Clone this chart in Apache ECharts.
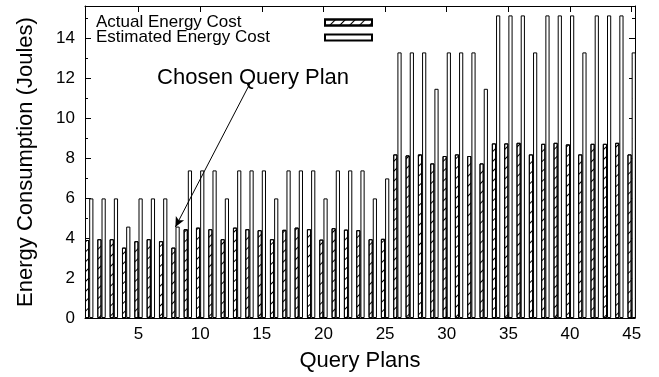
<!DOCTYPE html>
<html>
<head>
<meta charset="utf-8">
<script src="https://cdn.jsdelivr.net/npm/echarts@6/dist/echarts.min.js"></script>
<style>
  html, body { margin: 0; background: #fff; }
  #chart { width: 659px; height: 377px; }
</style>
</head>
<body>
<div id="chart"></div>
<script>
// query plan numbers (x)
const plans = [1, 2, 3, 4, 5, 6, 7, 8, 9, 10, 11, 12, 13, 14, 15, 16, 17, 18, 19, 20, 21, 22, 23,
  24, 25, 26, 27, 28, 29, 30, 31, 32, 33, 34, 35, 36, 37, 38, 39, 40, 41, 42, 43, 44, 45];

// energy in joules
const actualCost = [3.90, 3.94, 3.94, 3.52, 3.84, 3.94, 3.84, 3.52,
  4.44, 4.52, 4.44, 3.94, 4.52, 4.44, 4.39, 3.94,
  4.41, 4.52, 4.44, 3.92, 4.49, 4.42, 4.39, 3.94,
  3.96,
  8.18, 8.13, 8.18, 7.73, 8.10, 8.18, 8.10, 7.73,
  8.73, 8.73, 8.76, 8.18, 8.71, 8.76, 8.68, 8.18, 8.71, 8.71, 8.76, 8.18];
const estimatedCost = [5.98, 5.98, 5.98, 4.57, 5.98, 5.98, 5.98, 4.57,
  7.38, 7.38, 7.38, 5.98, 7.38, 7.38, 7.38, 5.98,
  7.38, 7.38, 7.38, 5.98, 7.38, 7.38, 7.38, 5.98,
  6.98,
  13.28, 13.28, 13.28, 11.46, 13.28, 13.28, 13.28, 11.46,
  15.13, 15.13, 15.13, 13.28, 15.13, 15.13, 15.13, 13.28, 15.13, 15.13, 15.13, 13.28];

const xTicks = [5, 10, 15, 20, 25, 30, 35, 40, 45];
const yMajorTicks = [0, 2, 4, 6, 8, 10, 12, 14];
const yMinorTicks = [1, 3, 5, 7, 9, 11, 13, 15];

// annotation ("Chosen Query Plan" arrow), in data units
const noteText = "Chosen Query Plan";
const noteAt = [14.12, 12.02];
const arrowFrom = [13.9, 11.76];
const arrowTo = [7.82, 4.55];

const FONT = "Liberation Sans";
const X_MIN = 0.66, X_MAX = 45.27;
const Y_MIN = 0, Y_MAX = 15.6;

const chart = echarts.init(document.getElementById("chart"), null, { renderer: "canvas" });

// diagonal "/" hatching for the actual cost bars
const hatch = {
  symbol: "rect",
  symbolSize: 1,
  color: "#000",
  dashArrayX: [1, 0],
  dashArrayY: [1, 5.5],
  rotation: -Math.PI / 4,
};

function xAxisDef(pos, withLabels) {
  return {
    type: "value",
    position: pos,
    min: X_MIN,
    max: X_MAX,
    axisLine: { show: true, onZero: false, lineStyle: { color: "#000", width: 1 } },
    axisTick: { show: true, inside: true, length: 6, customValues: xTicks, lineStyle: { color: "#000" } },
    axisLabel: {
      show: withLabels,
      customValues: xTicks,
      margin: 8,
      fontFamily: FONT,
      fontSize: 17,
      color: "#000",
    },
    splitLine: { show: false },
  };
}

function yAxisDef(pos, ticks, len, showLine, withLabels) {
  return {
    type: "value",
    position: pos,
    min: Y_MIN,
    max: Y_MAX,
    axisLine: { show: showLine, onZero: false, lineStyle: { color: "#000", width: 1 } },
    axisTick: { show: true, inside: true, length: len, customValues: ticks, lineStyle: { color: "#000" } },
    axisLabel: {
      show: withLabels,
      customValues: yMajorTicks,
      margin: 10,
      fontFamily: FONT,
      fontSize: 17,
      color: "#000",
    },
    splitLine: { show: false },
  };
}

const xMain = xAxisDef("bottom", true);
xMain.name = "Query Plans";
xMain.nameLocation = "middle";
xMain.nameGap = 32;
xMain.nameTextStyle = { fontFamily: FONT, fontSize: 22, color: "#000" };

const yMain = yAxisDef("left", yMajorTicks, 6, true, true);
yMain.name = "Energy Consumption (Joules)";
yMain.nameLocation = "middle";
yMain.nameGap = 48;
yMain.nameTextStyle = { fontFamily: FONT, fontSize: 22, color: "#000" };

const option = {
  animation: false,
  backgroundColor: "#fff",
  grid: { left: 85, right: 24, top: 6, bottom: 58 },
  legend: {
    orient: "vertical",
    left: 96,
    top: 14,
    padding: 0,
    align: "right",
    icon: "rect",
    itemWidth: 47,
    itemHeight: 6,
    itemGap: -2,
    formatter: "{t|{name}}",
    textStyle: {
      rich: {
        t: { width: 224, height: 16, align: "left", fontFamily: FONT, fontSize: 17, lineHeight: 16, color: "#000" },
      },
    },
    data: ["Actual Energy Cost", "Estimated Energy Cost"],
  },
  xAxis: [xMain, xAxisDef("top", false)],
  yAxis: [
    yMain,
    yAxisDef("left", yMinorTicks, 3, false, false),
    yAxisDef("right", yMajorTicks, 6, true, false),
    yAxisDef("right", yMinorTicks, 3, false, false),
  ],
  series: [
    {
      name: "Actual Energy Cost",
      type: "bar",
      xAxisIndex: 0,
      yAxisIndex: 0,
      barWidth: 4.2,
      barGap: "0%",
      itemStyle: { color: "#fff", borderColor: "#000", borderWidth: 1, decal: hatch },
      data: plans.map((p, i) => [p, actualCost[i]]),
    },
    {
      name: "Estimated Energy Cost",
      type: "bar",
      xAxisIndex: 0,
      yAxisIndex: 0,
      barWidth: 4.2,
      barGap: "0%",
      itemStyle: { color: "#fff", borderColor: "#000", borderWidth: 1 },
      data: plans.map((p, i) => [p, estimatedCost[i]]),
      markLine: {
        silent: true,
        symbol: ["none", "arrow"],
        symbolSize: [7, 10],
        lineStyle: { color: "#000", width: 1, type: "solid" },
        label: { show: false },
        data: [[{ coord: arrowFrom }, { coord: arrowTo }]],
      },
      markPoint: {
        silent: true,
        symbol: "circle",
        symbolSize: 0,
        label: {
          show: true,
          position: "inside",
          formatter: noteText,
          fontFamily: FONT,
          fontSize: 22,
          color: "#000",
        },
        data: [{ coord: noteAt }],
      },
    },
  ],
};

chart.setOption(option);
</script>
</body>
</html>
